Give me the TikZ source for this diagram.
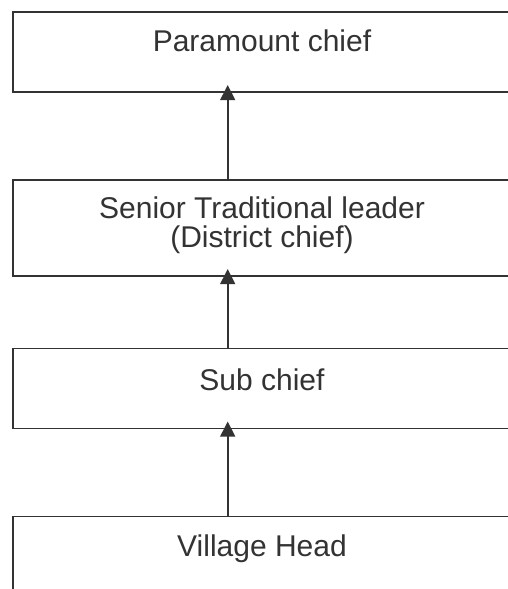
\documentclass[tikz,border=0pt]{standalone}
\usepackage{fontspec}
\setmainfont{Liberation Sans}
\usetikzlibrary{arrows.meta}
\definecolor{ink}{HTML}{333333}
\begin{document}
\begin{tikzpicture}[x=1pt,y=-1pt,
  boxstyle/.style={draw=ink,line width=1.6pt,fill=white,rectangle,inner sep=0pt,anchor=north west},
  lbl/.style={text=ink,font=\fontsize{30}{29}\selectfont,align=center,inner sep=0pt,anchor=base},
  arr/.style={draw=ink,line width=1.6pt,-{Triangle[length=15pt,width=15pt]},shorten >=-7.5pt}]
\useasboundingbox (0,0) rectangle (508,589);
\clip (0,0) rectangle (508,589);
\node[boxstyle,minimum width=520pt,minimum height=80pt] (b1) at (12,11) {};
\node[boxstyle,minimum width=520pt,minimum height=96pt] (b2) at (12,179) {};
\node[boxstyle,minimum width=520pt,minimum height=80pt] (b3) at (12,347.5) {};
\node[boxstyle,minimum width=520pt,minimum height=110pt] (b4) at (12,515.5) {};
\node[lbl] (t1) at (262,51.7) {Paramount chief};
\node[lbl] (t2) at (262,247.5) {Senior Traditional leader\\(District chief)};
\node[lbl] (t3) at (262,390) {Sub chief};
\node[lbl] (t4) at (262,556.7) {Village Head};
\coordinate (ax) at (227.7,0);
\draw[arr] (b2.north -| ax) -- (b1.south -| ax);
\draw[arr] (b3.north -| ax) -- (b2.south -| ax);
\draw[arr] (b4.north -| ax) -- (b3.south -| ax);
\end{tikzpicture}
\end{document}
